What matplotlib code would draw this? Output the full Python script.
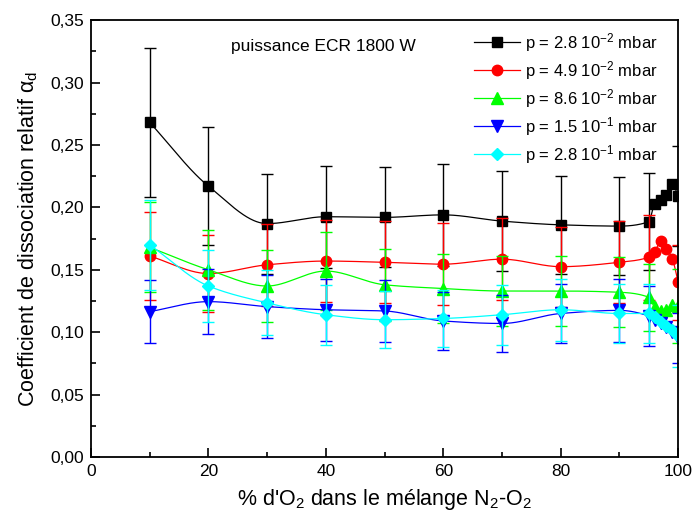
import numpy as np
import matplotlib
matplotlib.use("Agg")
import matplotlib.pyplot as plt
from matplotlib.ticker import MultipleLocator, FuncFormatter

plt.rcParams["font.family"] = ["Liberation Sans", "DejaVu Sans"]
plt.rcParams["mathtext.fontset"] = "custom"
plt.rcParams["mathtext.rm"] = "Liberation Sans"
plt.rcParams["mathtext.it"] = "Liberation Sans:italic"

# % O2 dans le melange
x_o2 = [10, 20, 30, 40, 50, 60, 70, 80, 90, 95, 96, 97, 98, 99, 100]

alpha_28e2 = [0.268, 0.217, 0.187, 0.1925, 0.192, 0.194, 0.189, 0.186, 0.185, 0.1885,
              0.203, 0.206, 0.210, 0.219, 0.209]
alpha_49e2 = [0.161, 0.147, 0.154, 0.157, 0.156, 0.1545, 0.1585, 0.1525, 0.156, 0.160,
              0.164, 0.173, 0.1665, 0.159, 0.140]
alpha_86e2 = [0.168, 0.150, 0.137, 0.149, 0.138, 0.135, 0.133, 0.133, 0.132, 0.128,
              0.120, 0.117, 0.118, 0.122, 0.121]
alpha_15e1 = [0.1165, 0.1245, 0.1205, 0.118, 0.117, 0.109, 0.107, 0.115, 0.1175, 0.113,
              0.110, 0.107, 0.104, 0.100, 0.095]
alpha_28e1 = [0.170, 0.137, 0.1235, 0.114, 0.110, 0.111, 0.114, 0.118, 0.115, 0.115,
              0.112, 0.108, 0.105, 0.102, 0.097]

# barres d'erreur (0 = pas de barre)
err_28e2 = [0.060, 0.047, 0.040, 0.041, 0.040, 0.041, 0.040, 0.039, 0.039, 0.039, 0, 0, 0, 0, 0.040]
err_49e2 = [0.035, 0.031, 0.033, 0.033, 0.033, 0.033, 0.033, 0.032, 0.033, 0.034, 0, 0, 0, 0, 0.030]
err_86e2 = [0.036, 0.032, 0.029, 0.031, 0.029, 0.028, 0.028, 0.028, 0.028, 0.027, 0, 0, 0, 0, 0.030]
err_15e1 = [0.025, 0.026, 0.025, 0.025, 0.025, 0.023, 0.023, 0.024, 0.025, 0.024, 0, 0, 0, 0, 0.020]
err_28e1 = [0.036, 0.029, 0.026, 0.024, 0.023, 0.023, 0.024, 0.025, 0.024, 0.024, 0, 0, 0, 0, 0.025]

labels = [r"p = 2.8 10$^{-2}$ mbar", r"p = 4.9 10$^{-2}$ mbar", r"p = 8.6 10$^{-2}$ mbar",
          r"p = 1.5 10$^{-1}$ mbar", r"p = 2.8 10$^{-1}$ mbar"]


def courbe_lisse(x, y, n=600):
    # interpolation cubique monotone (type PCHIP) pour le trace lisse
    x = np.asarray(x, float)
    y = np.asarray(y, float)
    h = np.diff(x)
    d = np.diff(y) / h
    m = np.zeros_like(y)
    for i in range(1, len(x) - 1):
        if d[i - 1] * d[i] > 0:
            w1 = 2 * h[i] + h[i - 1]
            w2 = h[i] + 2 * h[i - 1]
            m[i] = (w1 + w2) / (w1 / d[i - 1] + w2 / d[i])
    m[0] = d[0]
    m[-1] = d[-1]
    xs = np.linspace(x[0], x[-1], n)
    k = np.clip(np.searchsorted(x, xs) - 1, 0, len(x) - 2)
    t = (xs - x[k]) / h[k]
    h00 = 2 * t ** 3 - 3 * t ** 2 + 1
    h10 = t ** 3 - 2 * t ** 2 + t
    h01 = -2 * t ** 3 + 3 * t ** 2
    h11 = t ** 3 - t ** 2
    ys = h00 * y[k] + h10 * h[k] * m[k] + h01 * y[k + 1] + h11 * h[k] * m[k + 1]
    return xs, ys


fig = plt.figure(figsize=(6.92, 5.29), dpi=100)
ax = fig.add_axes([0.1315, 0.136, 0.8485, 0.826])

series = [
    (alpha_28e2, err_28e2, "black", "s", 6.5),
    (alpha_49e2, err_49e2, "red", "o", 7.5),
    (alpha_86e2, err_86e2, "#00ff00", "^", 8),
    (alpha_15e1, err_15e1, "blue", "v", 8),
    (alpha_28e1, err_28e1, "cyan", "D", 6.5),
]

for (vals, errs, col, mk, ms), lab in zip(series, labels):
    xe = [xv for xv, e in zip(x_o2, errs) if e > 0]
    ye = [v for v, e in zip(vals, errs) if e > 0]
    ee = [e for e in errs if e > 0]
    ax.errorbar(xe, ye, yerr=ee, fmt="none", ecolor=col, elinewidth=1.0,
                capsize=4, capthick=1.0)
    xs, ys = courbe_lisse(x_o2, vals)
    ax.plot(xs, ys, color=col, lw=0.9)
    ax.plot(x_o2, vals, ls="none", marker=mk, ms=ms, color=col, mec=col)
    ax.plot([], [], color=col, lw=0.9, marker=mk, ms=ms, label=lab)

ax.set_xlim(0, 100)
ax.set_ylim(0, 0.35)
ax.xaxis.set_major_locator(MultipleLocator(20))
ax.xaxis.set_minor_locator(MultipleLocator(10))
ax.yaxis.set_major_locator(MultipleLocator(0.05))
ax.yaxis.set_minor_locator(MultipleLocator(0.025))
ax.yaxis.set_major_formatter(FuncFormatter(lambda v, p: f"{v:.2f}".replace(".", ",")))
ax.tick_params(which="both", direction="in", labelsize=12.5, width=1.2)
ax.tick_params(which="major", length=6.5, pad=5)
ax.tick_params(which="minor", length=3.5)
for sp in ax.spines.values():
    sp.set_linewidth(1.3)

ax.set_xlabel(r"% d'O$_2$ dans le mélange N$_2$-O$_2$", fontsize=15.5, labelpad=6)
ax.set_ylabel(r"Coefficient de dissociation relatif α$_\mathrm{d}$", fontsize=15.5, labelpad=7)

ax.text(39.5, 0.3286, "puissance ECR 1800 W", fontsize=12.5, ha="center", va="center")

ax.legend(loc="upper left", bbox_to_anchor=(0.652, 0.975), frameon=False, fontsize=12,
          handlelength=2.8, handletextpad=0.3, labelspacing=0.3, borderpad=0, borderaxespad=0)

fig.savefig("out.png", dpi=100)
